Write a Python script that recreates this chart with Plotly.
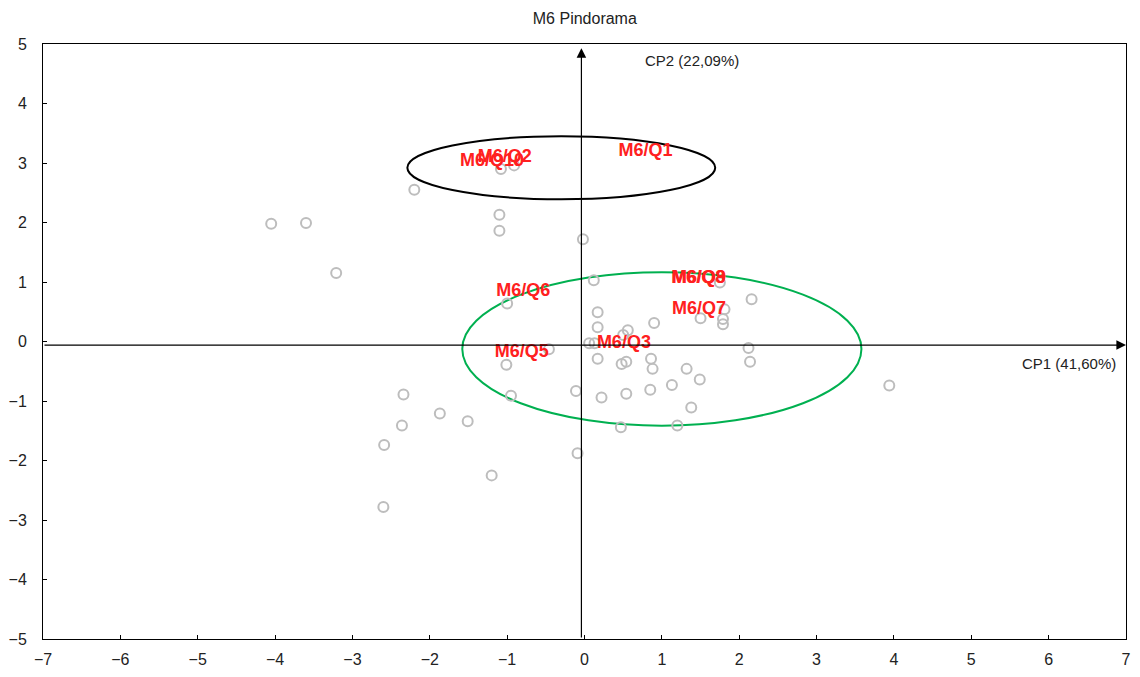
import plotly.graph_objects as go

# Observation scores (CP1, CP2)
obs_x = [-1.08, -0.91, -2.20, -4.05, -3.60, -1.10, -1.10, -0.02, -3.21, 0.12,
         -1.00, 0.17, 0.17, 0.56, 0.50, 0.90, 0.06, 0.13, 0.17, 0.48,
         0.54, 0.86, 0.88, 1.32, 1.49, 1.13, 0.85, 0.54, 0.22, -0.11,
         1.38, 0.47, 1.20, 1.75, 2.16, 1.81, 1.50, 1.79, 1.79, 2.12,
         2.14, 3.94, -0.46, -1.01, -0.95, -2.34, -1.87, -1.51, -2.36, -2.59,
         -2.60, -1.20, -0.09]
obs_y = [2.90, 2.96, 2.55, 1.98, 1.99, 2.13, 1.86, 1.72, 1.15, 1.03,
         0.64, 0.49, 0.24, 0.19, 0.11, 0.31, -0.03, -0.03, -0.29, -0.38,
         -0.34, -0.29, -0.46, -0.46, -0.64, -0.73, -0.81, -0.88, -0.94, -0.83,
         -1.11, -1.44, -1.41, 0.99, 0.71, 0.54, 0.39, 0.38, 0.29, -0.11,
         -0.34, -0.74, -0.13, -0.39, -0.91, -0.89, -1.21, -1.34, -1.41, -1.74,
         -2.78, -2.25, -1.88]

# Variable labels
var_names = ["M6/Q1", "M6/Q2", "M6/Q10", "M6/Q6", "M6/Q8", "M6/Q9", "M6/Q7", "M6/Q3", "M6/Q5"]
var_x = [0.44, -1.38, -1.61, -1.14, 1.12, 1.13, 1.13, 0.16, -1.16]
var_y = [3.19, 3.10, 3.03, 0.84, 1.06, 1.06, 0.53, -0.04, -0.18]

# Group ellipses: center x, center y, radius x, radius y, colour
ell_cx = [-0.30, 1.00]
ell_cy = [2.92, -0.125]
ell_rx = [1.99, 2.58]
ell_ry = [0.53, 1.29]
ell_col = ["#000000", "#00b050"]

x_ticks = list(range(-7, 8))
y_ticks = list(range(-5, 6))
axis_x0 = -0.04
axis_y0 = -0.06

fig = go.Figure()

fig.add_trace(go.Scatter(
    x=obs_x, y=obs_y, mode="markers",
    marker=dict(symbol="circle-open", size=10, color="#bdbdbd", line=dict(width=2, color="#bdbdbd")),
    hoverinfo="skip", showlegend=False))

fig.add_trace(go.Scatter(
    x=var_x, y=var_y, mode="text", text=var_names, textposition="middle right",
    textfont=dict(family="Liberation Sans, Arial", size=18, color="#ff2020", weight="bold"),
    hoverinfo="skip", showlegend=False))

shapes = []
for cx, cy, rx, ry, c in zip(ell_cx, ell_cy, ell_rx, ell_ry, ell_col):
    shapes.append(dict(type="circle", xref="x", yref="y",
                       x0=cx - rx, x1=cx + rx, y0=cy - ry, y1=cy + ry,
                       line=dict(color=c, width=2), layer="below"))

annotations = [
    dict(x=7.0, y=axis_y0, ax=-7, ay=axis_y0, xref="x", yref="y", axref="x", ayref="y",
         showarrow=True, arrowhead=2, arrowsize=1.6, arrowwidth=1.2, arrowcolor="#000", text=""),
    dict(x=axis_x0, y=4.93, ax=axis_x0, ay=-5, xref="x", yref="y", axref="x", ayref="y",
         showarrow=True, arrowhead=2, arrowsize=1.6, arrowwidth=1.2, arrowcolor="#000", text=""),
    dict(x=6.9, y=-0.37, xref="x", yref="y", text="CP1 (41,60%)", showarrow=False,
         xanchor="right", yanchor="middle", font=dict(size=15, color="#222")),
    dict(x=0.76, y=4.72, xref="x", yref="y", text="CP2 (22,09%)", showarrow=False,
         xanchor="left", yanchor="middle", font=dict(size=15, color="#222")),
]

fig.update_layout(
    width=1140, height=677,
    margin=dict(l=39, r=9, t=44, b=34),
    paper_bgcolor="white", plot_bgcolor="white",
    font=dict(family="Liberation Sans, Arial", size=16, color="#222"),
    title=dict(text="M6 Pindorama", x=0.513, xanchor="center", y=0.973, yanchor="middle",
               font=dict(size=16, color="#222")),
    shapes=shapes, annotations=annotations,
    xaxis=dict(range=[-7, 7], tickvals=x_ticks, ticks="inside", ticklen=4, tickcolor="#000",
               showline=True, linecolor="#000", linewidth=1, mirror=True,
               showgrid=False, zeroline=False, ticklabelstandoff=6),
    yaxis=dict(range=[-5, 5], tickvals=y_ticks, ticks="inside", ticklen=4, tickcolor="#000",
               showline=True, linecolor="#000", linewidth=1, mirror=True,
               showgrid=False, zeroline=False, ticklabelstandoff=12),
)

fig.write_html("out.html")
